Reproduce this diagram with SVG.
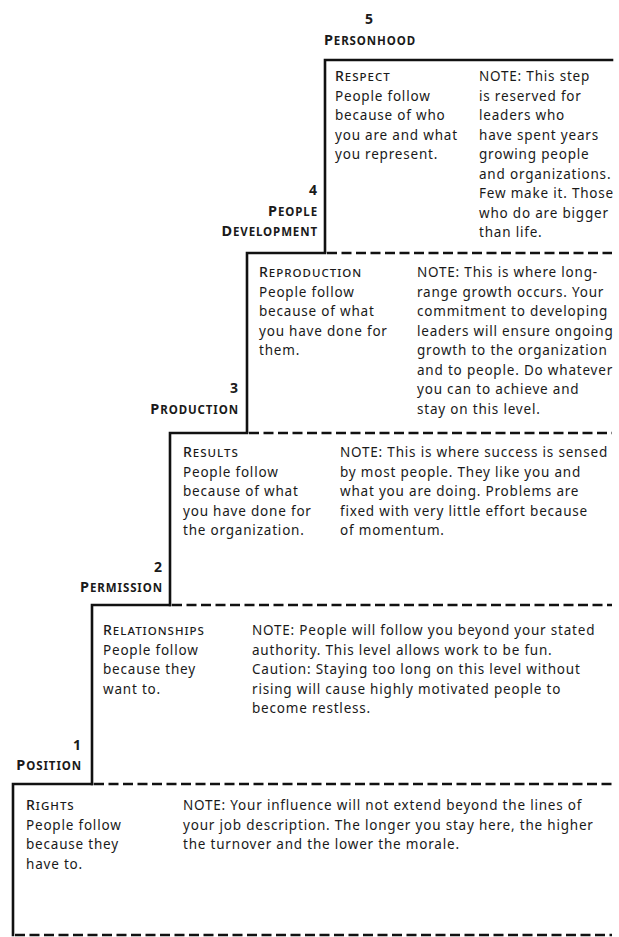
<svg xmlns="http://www.w3.org/2000/svg" width="619" height="937" viewBox="0 0 619 937">
<style>
text{font-family:"Noto Sans","Liberation Sans",sans-serif;fill:#1a1a1a;}
.b{font-size:13.5px;letter-spacing:0.8px;}
.h{font-size:14px;font-weight:500;letter-spacing:1px;}
.sc{font-size:11.5px;}
.lab{font-size:14.5px;font-weight:700;letter-spacing:0.9px;}
.num{font-size:14px;font-weight:700;}
.r{text-anchor:end;}
.solid{stroke:#111;stroke-width:2.6;fill:none;stroke-linecap:square;}
.dash{stroke:#111;stroke-width:2.6;fill:none;stroke-dasharray:10 4.5;}
</style>
<rect width="619" height="937" fill="#fff"/>
<g id="connectors">
<path class="solid" d="M325 252 V60 H612"/>
<path class="solid" d="M247 432 V253 H325"/>
<path class="dash" d="M327 253 H612"/>
<path class="solid" d="M170 605 V433 H247"/>
<path class="dash" d="M249 433 H612"/>
<path class="solid" d="M92 784 V605 H170"/>
<path class="dash" d="M172 605 H612"/>
<path class="solid" d="M13 935 V784 H92"/>
<path class="dash" d="M94 784 H612"/>
<path class="dash" d="M15 935 H612"/>
</g>
<g id="step5">
<text class="num" x="369" y="24" text-anchor="middle">5</text>
<text class="lab" x="370" y="45" text-anchor="middle">P<tspan class="sc">ERSONHOOD</tspan></text>
<text class="h" x="335" y="81">R<tspan class="sc">ESPECT</tspan></text>
<text class="b" x="335" y="100.5">People follow</text>
<text class="b" x="335" y="120">because of who</text>
<text class="b" x="335" y="139.5">you are and what</text>
<text class="b" x="335" y="159">you represent.</text>
<text class="b" x="479" y="81">NOTE: This step</text>
<text class="b" x="479" y="100.5">is reserved for</text>
<text class="b" x="479" y="120">leaders who</text>
<text class="b" x="479" y="139.5">have spent years</text>
<text class="b" x="479" y="159">growing people</text>
<text class="b" x="479" y="178.5">and organizations.</text>
<text class="b" x="479" y="198">Few make it. Those</text>
<text class="b" x="479" y="217.5">who do are bigger</text>
<text class="b" x="479" y="237">than life.</text>
</g>
<g id="step4">
<text class="num r" x="317" y="195">4</text>
<text class="lab r" x="318" y="216">P<tspan class="sc">EOPLE</tspan></text>
<text class="lab r" x="318" y="236">D<tspan class="sc">EVELOPMENT</tspan></text>
<text class="h" x="259" y="277">R<tspan class="sc">EPRODUCTION</tspan></text>
<text class="b" x="259" y="296.5">People follow</text>
<text class="b" x="259" y="316">because of what</text>
<text class="b" x="259" y="335.5">you have done for</text>
<text class="b" x="259" y="355">them.</text>
<text class="b" x="417" y="277">NOTE: This is where long-</text>
<text class="b" x="417" y="296.5">range growth occurs. Your</text>
<text class="b" x="417" y="316">commitment to developing</text>
<text class="b" x="417" y="335.5">leaders will ensure ongoing</text>
<text class="b" x="417" y="355">growth to the organization</text>
<text class="b" x="417" y="374.5">and to people. Do whatever</text>
<text class="b" x="417" y="394">you can to achieve and</text>
<text class="b" x="417" y="413.5">stay on this level.</text>
</g>
<g id="step3">
<text class="num r" x="238" y="393">3</text>
<text class="lab r" x="239" y="414">P<tspan class="sc">RODUCTION</tspan></text>
<text class="h" x="183" y="457">R<tspan class="sc">ESULTS</tspan></text>
<text class="b" x="183" y="476.5">People follow</text>
<text class="b" x="183" y="496">because of what</text>
<text class="b" x="183" y="515.5">you have done for</text>
<text class="b" x="183" y="535">the organization.</text>
<text class="b" x="340" y="457">NOTE: This is where success is sensed</text>
<text class="b" x="340" y="476.5">by most people. They like you and</text>
<text class="b" x="340" y="496">what you are doing. Problems are</text>
<text class="b" x="340" y="515.5">fixed with very little effort because</text>
<text class="b" x="340" y="535">of momentum.</text>
</g>
<g id="step2">
<text class="num r" x="162" y="572">2</text>
<text class="lab r" x="163" y="592">P<tspan class="sc">ERMISSION</tspan></text>
<text class="h" x="103" y="635">R<tspan class="sc">ELATIONSHIPS</tspan></text>
<text class="b" x="103" y="654.5">People follow</text>
<text class="b" x="103" y="674">because they</text>
<text class="b" x="103" y="693.5">want to.</text>
<text class="b" x="252" y="635">NOTE: People will follow you beyond your stated</text>
<text class="b" x="252" y="654.5">authority. This level allows work to be fun.</text>
<text class="b" x="252" y="674">Caution: Staying too long on this level without</text>
<text class="b" x="252" y="693.5">rising will cause highly motivated people to</text>
<text class="b" x="252" y="713">become restless.</text>
</g>
<g id="step1">
<text class="num r" x="81" y="750">1</text>
<text class="lab r" x="82" y="770">P<tspan class="sc">OSITION</tspan></text>
<text class="h" x="26" y="810">R<tspan class="sc">IGHTS</tspan></text>
<text class="b" x="26" y="829.7">People follow</text>
<text class="b" x="26" y="849.4">because they</text>
<text class="b" x="26" y="869">have to.</text>
<text class="b" x="183" y="810">NOTE: Your influence will not extend beyond the lines of</text>
<text class="b" x="183" y="829.7">your job description. The longer you stay here, the higher</text>
<text class="b" x="183" y="849.4">the turnover and the lower the morale.</text>
</g>
</svg>
